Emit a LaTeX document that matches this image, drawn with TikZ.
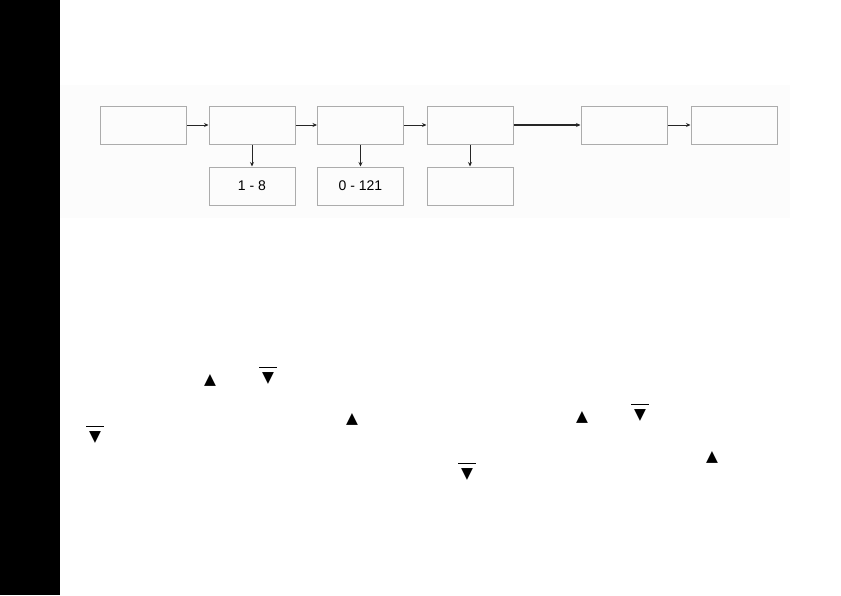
\documentclass[tikz,border=0pt]{standalone}
\usepackage{fontspec}
\setmainfont{Liberation Sans}
\newfontfamily\symfont{DejaVu Sans}
\usetikzlibrary{arrows.meta}
\newcommand{\keyup}{{\symfont ▲}}
\newcommand{\keydn}{\rule{18pt}{0.9pt}\\[-1pt]{\symfont ▼}}
\begin{document}
\begin{tikzpicture}[x=1pt,y=-1pt,font=\fontsize{14}{16}\selectfont,
  box/.style={draw=gray!65,line width=1pt,minimum width=86pt,minimum height=38pt,inner sep=0pt},
  link/.style={-{Stealth[length=4.5pt,width=4pt]},black!85,line width=0.8pt},
  key/.style={inner sep=0pt,font=\fontsize{15.5}{15.5}\selectfont,align=center}]
  \useasboundingbox (0,0) rectangle (841,595);
  \fill[black] (0,0) rectangle (60,595);
  \fill[gray!2] (60,85) rectangle (790,218);
  % top row
  \foreach \name/\horizontal in {one/143.5,two/252,three/360.5,four/470,five/624,six/734}
    \node[box] (\name) at (\horizontal,125) {};
  % lower row
  \node[box] (range1) at (252,186) {1 - 8};
  \node[box] (range2) at (360.5,186) {0 - 121};
  \node[box] (range3) at (470,186) {};
  \draw[link] (one) -- (two);
  \draw[link] (two) -- (three);
  \draw[link] (three) -- (four);
  \draw[link,line width=1.4pt] (four) -- (five);
  \draw[link] (five) -- (six);
  \draw[link] (two) -- (range1);
  \draw[link] (three) -- (range2);
  \draw[link] (four) -- (range3);
  % keys in the text
  \node[key] (up1) at (210,380) {\keyup};
  \node[key] (dn1) at (268,376) {\keydn};
  \node[key] (up2) at (352,419) {\keyup};
  \node[key] (up3) at (582,417) {\keyup};
  \node[key] (dn2) at (640,413) {\keydn};
  \node[key] (dn3) at (95,435) {\keydn};
  \node[key] (up4) at (712,457) {\keyup};
  \node[key] (dn4) at (467,472) {\keydn};
\end{tikzpicture}
\end{document}
